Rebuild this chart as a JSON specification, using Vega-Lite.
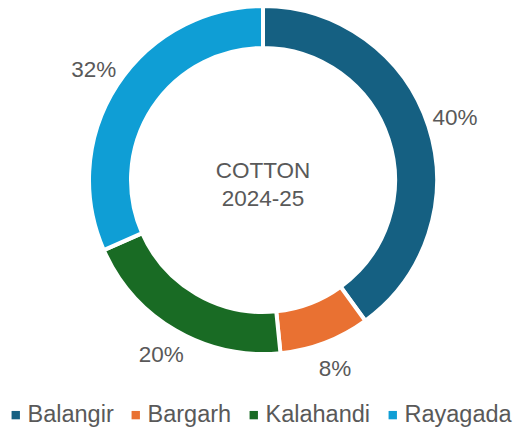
{
  "$schema": "https://vega.github.io/schema/vega-lite/v6.json",
  "width": 516,
  "height": 360,
  "autosize": {"type": "none"},
  "padding": {"left": 5, "top": 0, "right": 0, "bottom": 67},
  "background": "white",
  "data": {
    "values": [
      {"district": "Balangir", "share": 40, "label": "40%"},
      {"district": "Bargarh", "share": 8.4, "label": "8%"},
      {"district": "Kalahandi", "share": 20, "label": "20%"},
      {"district": "Rayagada", "share": 31.6, "label": "32%"}
    ]
  },
  "layer": [
    {
      "mark": {"type": "arc", "outerRadius": 174, "innerRadius": 132, "stroke": "white", "strokeWidth": 4},
      "encoding": {
        "theta": {"field": "share", "type": "quantitative", "stack": true},
        "order": {"field": "district"},
        "color": {
          "field": "district",
          "type": "nominal",
          "scale": {
            "domain": ["Balangir", "Bargarh", "Kalahandi", "Rayagada"],
            "range": ["#156082", "#E97132", "#196B24", "#0F9ED5"]
          },
          "legend": {
            "title": null,
            "orient": "none",
            "direction": "horizontal",
            "legendX": -1,
            "legendY": 403,
            "padding": 0,
            "symbolType": "square",
            "symbolSize": 70,
            "symbolStrokeWidth": 0,
            "symbolOpacity": 1,
            "labelFont": "Liberation Sans",
            "labelFontSize": 23.5,
            "labelColor": "#595959",
            "labelOffset": 0,
            "columnPadding": 10,
            "labelLimit": 300
          }
        }
      }
    },
    {
      "mark": {"type": "text", "radius": 202, "font": "Liberation Sans", "fontSize": 22.5, "color": "#595959"},
      "encoding": {
        "theta": {"field": "share", "type": "quantitative", "stack": true},
        "order": {"field": "district"},
        "text": {"field": "label"}
      }
    },
    {
      "data": {"values": [{"title": "COTTON 2024-25"}]},
      "mark": {"type": "text", "text": ["COTTON", "2024-25"], "lineHeight": 28, "font": "Liberation Sans", "fontSize": 22.5, "color": "#595959", "baseline": "middle", "align": "center", "dy": -9},
      "encoding": {}
    }
  ],
  "config": {"view": {"stroke": null}}
}
